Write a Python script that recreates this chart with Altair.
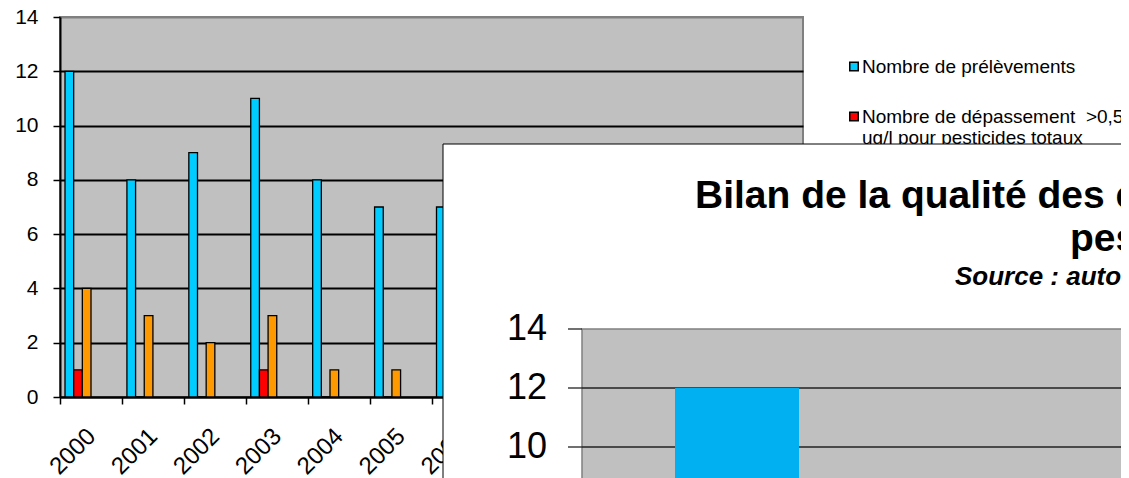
import altair as alt
import pandas as pd

# ---------------- data ----------------
axis_years = [str(y) for y in range(2000, 2012)]
series = [
    "Nombre de prélèvements",
    "Nombre de dépassement >0,5 ug/l pour pesticides totaux",
    "Nombre de dépassement >0,1 ug/l pour une molécule",
]
series_colors = ["#00CCFF", "#FF0000", "#FF9900"]
data_years = ["2000", "2001", "2002", "2003", "2004", "2005", "2006"]
prelevements = [12, 8, 9, 11, 8, 7, 7]
depass_totaux = [1, 0, 0, 1, 0, 0, None]
depass_molecule = [4, 3, 2, 3, 1, 1, None]
y_ticks = [0, 2, 4, 6, 8, 10, 12, 14]

legend_labels = [
    "Nombre de prélèvements",
    "Nombre de dépassement\u00a0\u00a0>0,5\nug/l pour pesticides totaux",
    "Nombre de dépassement >0,1\nug/l pour une molécule",
]

front_title = ["Bilan de la qualité des eaux vis-à-vis des", "pesticides"]
front_source = ["Source : autocontrôle"]
front_years = ["2000", "2001"]
front_values = [12, 8]
front_ticks = [0, 2, 4, 6, 8, 10, 12, 14]

FONT = "Liberation Sans"

# ---------------- back chart ----------------
rows = []
for name, vals in zip(series, [prelevements, depass_totaux, depass_molecule]):
    for yr, v in zip(data_years, vals):
        if v is not None:
            rows.append({"annee": yr, "serie": name, "valeur": v})
back_df = pd.DataFrame(rows)

W, H = 743, 380

back_bars = alt.Chart(back_df).mark_bar(stroke="black", strokeWidth=1.3).encode(
    x=alt.X(
        "annee:N",
        scale=alt.Scale(domain=axis_years, paddingInner=0, paddingOuter=0),
        axis=alt.Axis(
            title=None, labelAngle=-45, labelFontSize=24, labelFont=FONT,
            labelColor="black", tickBand="extent", tickSize=7, tickColor="black",
            tickWidth=1.5, domainColor="black", domainWidth=2, labelPadding=20,
            labelOffset=-8, labelOverlap=False,
        ),
    ),
    xOffset=alt.XOffset(
        "serie:N",
        scale=alt.Scale(domain=series, range=[5, 31], paddingInner=0, paddingOuter=0),
    ),
    y=alt.Y(
        "valeur:Q",
        scale=alt.Scale(domain=[0, 14], nice=False),
        axis=alt.Axis(
            title=None, values=y_ticks, labelFontSize=21, labelFont=FONT,
            labelColor="black", tickSize=7, tickColor="black", tickWidth=1.5,
            domainColor="black", domainWidth=2, labelPadding=15,
            grid=True, gridWidth=2,
            gridColor=alt.condition("datum.value == 14", alt.value("#808080"), alt.value("black")),
        ),
    ),
    color=alt.Color("serie:N", scale=alt.Scale(domain=series, range=series_colors), legend=None),
)

# ---------------- legend (drawn before the overlapping panel) ----------------
legend_layers = []
legend_base_y = [56, 106, 177]
for lab, col, yb in zip(legend_labels, series_colors, legend_base_y):
    ldf = pd.DataFrame({"label": [lab]})
    legend_layers.append(
        alt.Chart(ldf).mark_square(size=72, color=col, stroke="black", strokeWidth=1.5, opacity=1)
        .encode(x=alt.value(794), y=alt.value(yb - 6.5))
    )
    legend_layers.append(
        alt.Chart(ldf).mark_text(align="left", baseline="alphabetic", font=FONT, fontSize=19,
                                 lineBreak="\n", lineHeight=21, color="black")
        .encode(text="label:N", x=alt.value(802), y=alt.value(yb))
    )

# ---------------- overlapping front panel ----------------
one = pd.DataFrame({"k": [0]})
panel = alt.Chart(one).mark_rect(fill="white", stroke="black", strokeWidth=1).encode(
    x=alt.value(383), x2=alt.value(1120), y=alt.value(127), y2=alt.value(500)
)

front_y = alt.Scale(domain=[0, 14], range=[725, 312], nice=False, zero=True)
front_x = alt.Scale(domain=front_years, range=[522, 1142], paddingInner=0.6, paddingOuter=0.3)

front_bg = alt.Chart(one).mark_rect(fill="#C0C0C0", stroke="#808080", strokeWidth=1.5).encode(
    x=alt.value(522), x2=alt.value(1120),
    y=alt.Y(datum=14, scale=front_y, axis=None), y2=alt.Y2(datum=0),
)

tick_df = pd.DataFrame({"v": front_ticks})
front_ticks_l = alt.Chart(tick_df).mark_rule(color="#222222", strokeWidth=1.3).encode(
    y=alt.Y("v:Q", scale=front_y, axis=None), x=alt.value(508), x2=alt.value(522)
)
front_grid = alt.Chart(tick_df).transform_filter("datum.v < 14").mark_rule(
    color="#222222", strokeWidth=1.3
).encode(y=alt.Y("v:Q", scale=front_y, axis=None), x=alt.value(522), x2=alt.value(1120))
front_labels = alt.Chart(tick_df).mark_text(
    align="right", baseline="middle", font=FONT, fontSize=36, color="black"
).encode(y=alt.Y("v:Q", scale=front_y, axis=None), x=alt.value(487), text="v:N")

front_df = pd.DataFrame({"annee": front_years, "valeur": front_values})
front_bar = alt.Chart(front_df).mark_bar(color="#00B0F0").encode(
    x=alt.X("annee:N", scale=front_x, axis=None),
    y=alt.Y("valeur:Q", scale=front_y, axis=None),
)

t1 = alt.Chart(pd.DataFrame({"t": [front_title[0]]})).mark_text(
    align="left", baseline="alphabetic", font=FONT, fontSize=39, fontWeight="bold", color="black"
).encode(text="t:N", x=alt.value(635), y=alt.value(191))
t2 = alt.Chart(pd.DataFrame({"t": [front_title[1]]})).mark_text(
    align="left", baseline="alphabetic", font=FONT, fontSize=39, fontWeight="bold", color="black"
).encode(text="t:N", x=alt.value(1010), y=alt.value(234))
t3 = alt.Chart(pd.DataFrame({"t": front_source})).mark_text(
    align="left", baseline="alphabetic", font=FONT, fontSize=26, fontWeight="bold",
    fontStyle="italic", color="black"
).encode(text="t:N", x=alt.value(895), y=alt.value(268))

chart = alt.layer(
    back_bars, *legend_layers, panel, front_bg, front_grid, front_ticks_l,
    front_labels, front_bar, t1, t2, t3,
).resolve_scale(
    x="independent", y="independent"
).properties(
    width=W, height=H,
    autosize=alt.AutoSizeParams(type="none"),
    padding={"left": 52, "top": 9, "right": 318, "bottom": 81},
    background="white",
).configure_view(
    fill="#C0C0C0", stroke="#808080", strokeWidth=2
)

chart.save("out.html", embed_options={"renderer": "svg", "actions": False})
